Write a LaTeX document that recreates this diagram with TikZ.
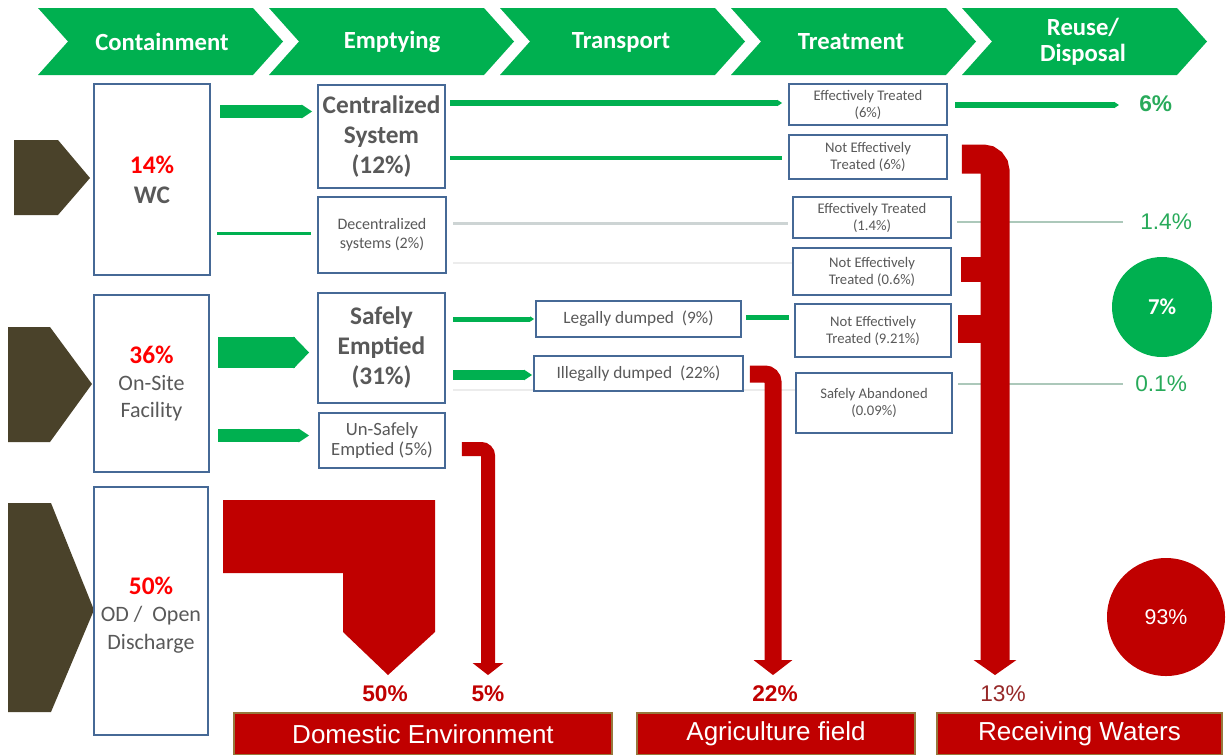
\documentclass[tikz,border=0pt]{standalone}
\usepackage{fontspec}
\setmainfont{Carlito}
\newfontfamily\arialf{Liberation Sans}
\usetikzlibrary{arrows.meta,calc,backgrounds}
\definecolor{hgreen}{RGB}{0,176,80}
\definecolor{tgreen}{RGB}{40,170,90}
\definecolor{brownc}{RGB}{74,66,42}
\definecolor{boxblue}{RGB}{70,105,150}
\definecolor{txtgray}{RGB}{89,89,89}
\definecolor{dred}{RGB}{192,0,0}
\definecolor{pred}{RGB}{255,0,0}
\definecolor{lred}{RGB}{150,40,40}
\definecolor{paleline}{RGB}{172,200,186}
\definecolor{greyline}{RGB}{205,212,212}
\definecolor{faintline}{RGB}{236,236,236}
\definecolor{barline}{RGB}{150,120,60}
\newcommand\fs[2]{\fontsize{#1}{#2}\selectfont}
\newcommand\pb[7]{\node[pbox,#6,minimum width={(#4-#2)*0.75pt},minimum height={(#5-#3)*0.75pt}] (#1) at ({(#2+#4)/2},{(#3+#5)/2}) {#7};}
\newcommand\chev[1]{\fill[hgreen] (#1,8) -- ({#1+215},8) -- ({#1+245},41.5) -- ({#1+215},75) -- (#1,75) -- ({#1+30},41.5) -- cycle;}
\tikzset{
  pbox/.style={draw=boxblue, line width=1.3pt, fill=white, inner sep=1pt, align=center, text=txtgray},
  htext/.style={text=white, font=\fs{18.5}{19.5}\bfseries, align=center, inner sep=0pt},
  gband/.style={draw=hgreen, line cap=butt, -{Triangle[length=0pt 0.8, width=0pt 1]}},
  gline/.style={draw=hgreen, line cap=butt},
  rarrow/.style={draw=dred, line cap=butt},
  pctg/.style={text=tgreen, font=\arialf\fs{17}{20}, inner sep=0pt, anchor=west},
  pctr/.style={text=dred, font=\arialf\fs{17}{20}\bfseries, inner sep=0pt},
  barbox/.style={fill=dred, draw=barline, line width=0.8pt, text=white, font=\arialf\fs{19.5}{20}, inner sep=0pt},
}
\begin{document}
\begin{tikzpicture}[x=0.75pt,y=-0.75pt]
\useasboundingbox (0,0) rectangle (1227,754);
% header chevrons
\chev{38}\chev{269}\chev{500}\chev{731}\chev{962}
\node[htext] (h1) at (162,42) {Containment};
\node[htext] (h2) at (392,42) {Emptying};
\node[htext] (h3) at (621,42) {Transport};
\node[htext] (h4) at (851,42) {Treatment};
\node[htext] (h5) at (1083,42) {Reuse/\\Disposal};
% brown pentagons
\fill[brownc] (14,140) -- (58,140) -- (90,178) -- (58,215) -- (14,215) -- cycle;
\fill[brownc] (8,327) -- (50,327) -- (92,384) -- (50,442) -- (8,442) -- cycle;
\fill[brownc] (8,503) -- (51,503) -- (94,610) -- (51,712) -- (8,712) -- cycle;
% containment boxes
\pb{wc}{94}{84}{210}{275}{font=\fs{19}{22.5}\bfseries}{\textcolor{pred}{14\%}\\WC}
\pb{ons}{94}{295}{209}{472}{font=\fs{16.5}{20}}{\textcolor{pred}{\fs{19}{20}\bfseries 36\%}\\On-Site\\Facility}
\pb{od}{94}{487}{208}{735}{}{}
\node[align=center, text=txtgray, font=\fs{16.5}{20.5}, inner sep=0pt] (odt) at (151,615) {\textcolor{pred}{\fs{19}{20.5}\bfseries 50\%}\\OD /\ \ Open\\Discharge};
% emptying boxes
\pb{cent}{318}{85}{445}{188}{font=\fs{19}{22.5}\bfseries}{Centralized\\System\\(12\%)}
\pb{dec}{318}{197}{446}{273}{font=\fs{12}{14.25}}{Decentralized\\systems (2\%)}
\pb{safe}{318}{293}{445}{403}{font=\fs{19}{22.5}\bfseries}{Safely\\Emptied\\(31\%)}
\pb{unsafe}{319}{413}{445}{468}{font=\fs{14}{15}}{Un-Safely\\Emptied (5\%)}
% transport boxes
\pb{legal}{536}{301}{741}{337}{font=\fs{13}{15}}{Legally dumped\ \ (9\%)}
\pb{illegal}{534}{356}{743}{391}{font=\fs{13}{15}}{Illegally dumped\ \ (22\%)}
% treatment boxes
\pb{et6}{789}{84}{947}{125}{font=\fs{11}{12.75}}{Effectively Treated\\(6\%)}
\pb{net6}{789}{135}{947}{179}{font=\fs{11}{12.75}}{Not Effectively\\Treated (6\%)}
\pb{et14}{793}{197}{951}{238}{font=\fs{11}{12.75}}{Effectively Treated\\(1.4\%)}
\pb{net06}{793}{248}{951}{295}{font=\fs{11}{12.75}}{Not Effectively\\Treated (0.6\%)}
\pb{net921}{795}{304}{951}{357}{font=\fs{11}{12.75}}{Not Effectively\\Treated (9.21\%)}
\pb{sa}{796}{373}{952}{433}{font=\fs{11}{12.75}}{Safely Abandoned\\(0.09\%)}
% right labels
\node[pctg, font=\arialf\fs{17}{20}\bfseries] (p6) at (1139,104) {6\%};
\node[pctg] (p14) at (1140,222) {1.4\%};
\node[pctg] (p01) at (1135,384) {0.1\%};
\node[circle, fill=hgreen, minimum size=75pt, inner sep=0pt, text=white, font=\fs{17}{20}\bfseries] (c7) at (1162,307) {7\%};
\node[circle, fill=dred, minimum size=88.5pt, inner sep=0pt, text=white, font=\arialf\fs{16}{20}] (c93) at (1166,617) {93\%};
% bottom labels and bars
\node[pctr] (l50) at (385,694) {50\%};
\node[pctr] (l5) at (488,694) {5\%};
\node[pctr] (l22) at (775,694) {22\%};
\node[pctr, text=lred, font=\arialf\fs{17}{20}] (l13) at (1003,694) {13\%};
\node[barbox, minimum width=283.5pt, minimum height=31.5pt] (dom) at (423,734) {Domestic Environment};
\node[barbox, minimum width=208.5pt, minimum height=31.5pt] (agr) at (776,734) {Agriculture field};
\node[barbox, minimum width=213.75pt, minimum height=31.5pt] (rcv) at (1079.5,734) {Receiving Waters};
% faint lines behind the boxes
\begin{scope}[on background layer]
\coordinate (b4s) at (453,263);
\draw[draw=faintline, line width=1.5pt] (b4s) -- (b4s -| net06.west);
\coordinate (b8s) at (453,390);
\draw[draw=faintline, line width=1.5pt] (b8s) -- (b8s -| sa.west);
\end{scope}
% green connectors containment -> emptying
\coordinate (a1s) at (220,111.5);
\draw[gband, line width=9.75pt, shorten >=3.75pt] (a1s) -- (a1s -| cent.west);
\coordinate (a2s) at (217,233);
\draw[gline, line width=2.25pt, shorten >=4.5pt] (a2s) -- (a2s -| dec.west);
\coordinate (a3s) at (218,352.5);
\draw[draw=hgreen, line cap=butt, line width=23.25pt, shorten >=6pt, -{Triangle[length=0pt 0.5, width=0pt 1]}] (a3s) -- (a3s -| safe.west);
\coordinate (a4s) at (218,435.5);
\draw[gband, line width=9.75pt, shorten >=6.75pt] (a4s) -- (a4s -| unsafe.west);
% emptying -> transport/treatment
\coordinate (b1s) at (450,103);
\draw[gband, line width=4.5pt, shorten >=4.5pt] (b1s) -- (b1s -| et6.west);
\coordinate (b2s) at (450,158);
\draw[gline, line width=3pt, shorten >=4.5pt] (b2s) -- (b2s -| net6.west);
\coordinate (b3s) at (453,223);
\draw[draw=greyline, line width=2.25pt, shorten >=3pt] (b3s) -- (b3s -| et14.west);
\coordinate (b5s) at (453,319);
\draw[gband, line width=3.75pt, shorten >=0.75pt] (b5s) -- (b5s -| legal.west);
\coordinate (b6s) at (453,375);
\draw[gband, line width=7.5pt, shorten >=0.75pt] (b6s) -- (b6s -| illegal.west);
\coordinate (b7s) at (746,317);
\draw[gline, line width=3.75pt, shorten >=3.75pt] (b7s) -- (b7s -| net921.west);
% treatment -> disposal
\coordinate (c1s) at (955,105);
\draw[gband, line width=4.5pt, shorten >=15pt] (c1s) -- (c1s -| p6.west);
\coordinate (c2s) at (957,222);
\draw[draw=paleline, line width=1.5pt, shorten >=12.75pt] (c2s) -- (c2s -| p14.west);
\coordinate (c3s) at (958,384);
\draw[draw=paleline, line width=1.5pt, shorten >=9pt] (c3s) -- (c3s -| p01.west);
% red flows
\fill[dred] (223,500) -- (435,500) -- (435,632) -- (388,675) -- (343,632) -- (343,573) -- (223,573) -- cycle;
\draw[rarrow, line width=10.5pt, rounded corners=5pt, shorten >=8pt, -{Triangle[length=9pt,width=22.5pt]}] (unsafe.east) ++(16,8.5) -| (l5.north);
\draw[rarrow, line width=12.75pt, rounded corners=6pt, shorten >=8pt, -{Triangle[length=11.25pt,width=28.5pt]}] (illegal.east) ++(6,0.5) -| ([xshift=-1.5pt]l22.north);
\fill[dred] (961,257) rectangle (996,282);
\fill[dred] (958,315) rectangle (996,343);
\draw[rarrow, line width=21.75pt, rounded corners=9pt, shorten >=8pt, -{Triangle[length=11.25pt,width=31.5pt]}] (net6.east) ++(14,2) -| ([xshift=-6pt]l13.north);
\end{tikzpicture}
\end{document}
